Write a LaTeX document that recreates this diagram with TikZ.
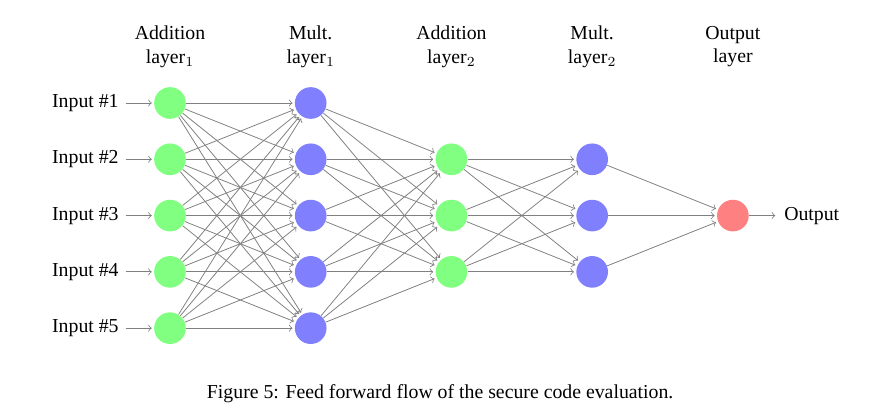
\documentclass[tikz,border=0pt]{standalone}
\usepackage{fontspec}
\setmainfont{Liberation Serif}
\usepackage{tikz}
\usetikzlibrary{positioning}
\definecolor{ffgreen}{HTML}{80FF80}
\definecolor{ffblue}{HTML}{8080FF}
\definecolor{ffred}{HTML}{FF8080}
\definecolor{ffedge}{HTML}{808080}
\tikzset{%
  ffnode/.style={%
    circle,
    minimum size=16pt,
    inner sep=0pt
  },
  ffadd/.style={ffnode,fill=ffgreen},
  ffmult/.style={ffnode,fill=ffblue},
  ffout/.style={ffnode,fill=ffred},
  fflabel/.style={align=center},
  ffarrow/.style={->,draw=ffedge,shorten >=1pt}
}
\begin{document}
\begin{tikzpicture}
    \useasboundingbox (-3.02,-3.63) rectangle (12.56,3.83);

    \node[ffadd] (a1) at (0,2) {};
    \node[ffadd] (a2) at (0,1) {};
    \node[ffadd] (a3) at (0,0) {};
    \node[ffadd] (a4) at (0,-1) {};
    \node[ffadd] (a5) at (0,-2) {};

    \node[ffmult] (m1) at (2.5,2) {};
    \node[ffmult] (m2) at (2.5,1) {};
    \node[ffmult] (m3) at (2.5,0) {};
    \node[ffmult] (m4) at (2.5,-1) {};
    \node[ffmult] (m5) at (2.5,-2) {};

    \node[ffadd] (b1) at (5,1) {};
    \node[ffadd] (b2) at (5,0) {};
    \node[ffadd] (b3) at (5,-1) {};

    \node[ffmult] (n1) at (7.5,1) {};
    \node[ffmult] (n2) at (7.5,0) {};
    \node[ffmult] (n3) at (7.5,-1) {};

    \node[ffout] (out) at (10,0) {};

    \node[left=5mm of a1] (in1) {Input \#1};
    \node[left=5mm of a2] (in2) {Input \#2};
    \node[left=5mm of a3] (in3) {Input \#3};
    \node[left=5mm of a4] (in4) {Input \#4};
    \node[left=5mm of a5] (in5) {Input \#5};
    \node[right=5mm of out] (outtext) {Output};

    \node[fflabel] (lbla) at (0,3) {Addition\\layer$_1$};
    \node[fflabel] (lblm) at (2.5,3) {Mult.\\layer$_1$};
    \node[fflabel] (lblb) at (5,3) {Addition\\layer$_2$};
    \node[fflabel] (lbln) at (7.5,3) {Mult.\\layer$_2$};
    \node[fflabel] (lblo) at (10,3) {Output\\layer};

    \node[fflabel] (caption) at (4.8,-3.16) {Figure 5: Feed forward flow of the secure code evaluation.};

    \foreach \i in {1,...,5}
      \draw[ffarrow] (in\i) -- (a\i);
    \foreach \i in {1,...,5}
      \foreach \j in {1,...,5}
        \draw[ffarrow] (a\i) -- (m\j);
    \foreach \i in {1,...,5}
      \foreach \j in {1,2,3}
        \draw[ffarrow] (m\i) -- (b\j);
    \foreach \i in {1,2,3}
      \foreach \j in {1,2,3}
        \draw[ffarrow] (b\i) -- (n\j);
    \foreach \i in {1,2,3}
      \draw[ffarrow] (n\i) -- (out);
    \draw[ffarrow] (out) -- (outtext);
  \end{tikzpicture}
\end{document}
